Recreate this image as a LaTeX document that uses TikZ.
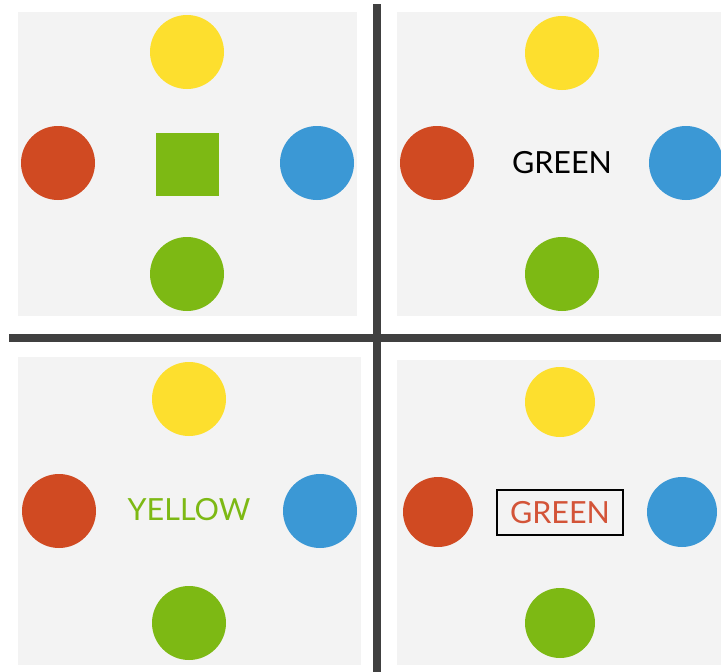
\documentclass[tikz,border=0pt]{standalone}
\usepackage{fontspec}
\setmainfont{Lato}
\definecolor{cyel}{HTML}{FDDF2E}
\definecolor{cred}{HTML}{D04A22}
\definecolor{ctxt}{HTML}{D35438}
\definecolor{cblu}{HTML}{3B98D5}
\definecolor{cgrn}{HTML}{7DB914}
\definecolor{cpan}{HTML}{F3F3F3}
\definecolor{cbar}{HTML}{404040}
\tikzset{
  dot/.style={circle, minimum size=74pt, inner sep=0pt, draw=none},
  panel/.style={fill=cpan, draw=none},
  word/.style={font=\fontsize{30.5}{31}\selectfont, inner sep=0pt},
  bar/.style={draw=cbar, line width=8.5pt}
}
\begin{document}
\begin{tikzpicture}[x=1pt, y=-1pt]
\useasboundingbox (0,0) rectangle (721,672);
\fill[white] (0,0) rectangle (721,672);
% panels
\fill[panel] (18,12) rectangle (357,316);
\fill[panel] (397,12) rectangle (721,316);
\fill[panel] (18,357) rectangle (361,665);
\fill[panel] (397,360) rectangle (721,665);
% dividers
\coordinate (vt) at (377,4);
\coordinate (vb) at (377,672);
\coordinate (hl) at (9,338);
\coordinate (hr) at (721,338);
\draw[bar] (vt) -- (vb);
\draw[bar] (hl) -- (hr);
% top-left
\node[dot, fill=cyel] (tlY) at (187,52) {};
\node[dot, fill=cred] (tlR) at (58,163) {};
\node[dot, fill=cblu] (tlB) at (317,163) {};
\node[dot, fill=cgrn] (tlG) at (187,274) {};
\node[fill=cgrn, minimum size=63pt, inner sep=0pt] (tlS) at (187.5,164) {};
% top-right
\node[dot, fill=cyel] (trY) at (562,53) {};
\node[dot, fill=cred] (trR) at (437,163) {};
\node[dot, fill=cblu] (trB) at (686,163) {};
\node[dot, fill=cgrn] (trG) at (562,274) {};
\node[word, text=black] (trT) at (562,163) {GREEN};
% bottom-left
\node[dot, fill=cyel] (blY) at (189,399) {};
\node[dot, fill=cred] (blR) at (59,511) {};
\node[dot, fill=cblu] (blB) at (320,511) {};
\node[dot, fill=cgrn] (blG) at (189,623) {};
\node[word, text=cgrn] (blT) at (189,510) {YELLOW};
% bottom-right
\node[dot, fill=cyel, minimum size=70pt] (brY) at (560,402) {};
\node[dot, fill=cred, minimum size=70pt] (brR) at (438,512) {};
\node[dot, fill=cblu, minimum size=70pt] (brB) at (682,512) {};
\node[dot, fill=cgrn, minimum size=70pt] (brG) at (560,623) {};
\node[word, text=ctxt, draw=black, line width=1.3pt, minimum width=126pt, minimum height=45pt] (brT) at (560,512.5) {GREEN};
\end{tikzpicture}
\end{document}
